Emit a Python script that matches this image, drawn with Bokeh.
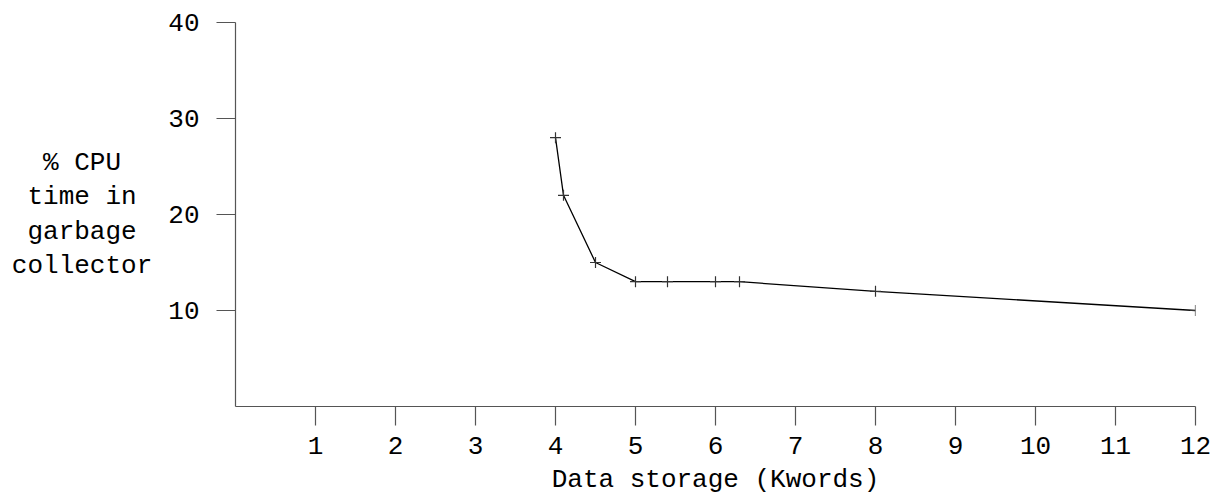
from bokeh.plotting import figure
from bokeh.models import FixedTicker, Range1d
from bokeh.embed import file_html
from bokeh.resources import INLINE

storage_kwords = [4, 4.1, 4.5, 5, 5.4, 6, 6.3, 8, 12]
cpu_pct_gc = [28, 22, 15, 13, 13, 13, 13, 12, 10]
x_ticks = [1, 2, 3, 4, 5, 6, 7, 8, 9, 10, 11, 12]
y_ticks = [10, 20, 30, 40]
x_title = "Data storage (Kwords)"
y_title_lines = ["% CPU", "time in", "garbage", "collector"]

FONT = "Liberation Mono"
FS = "26px"

# centre each line in the monospace block with non-breaking spaces
_w = max(len(s) for s in y_title_lines)
NB = "\u00a0"
y_title = "\n".join(NB * ((_w - len(s)) // 2) + s + NB * (_w - len(s) - (_w - len(s)) // 2)
                    for s in y_title_lines)

p = figure(width=1221, height=498, output_backend="svg", toolbar_location=None,
           x_range=Range1d(0, 12), y_range=Range1d(0, 40),
           min_border_left=235, min_border_right=26, min_border_top=22, min_border_bottom=92)
p.outline_line_color = None
p.xgrid.visible = False
p.ygrid.visible = False

for ax, ticks in ((p.xaxis[0], x_ticks), (p.yaxis[0], y_ticks)):
    ax.ticker = FixedTicker(ticks=ticks)
    ax.minor_tick_line_color = None
    ax.major_tick_in = 0
    ax.major_tick_out = 19
    ax.axis_line_color = "#555555"
    ax.major_tick_line_color = "#555555"
    ax.axis_line_width = 1.2
    ax.major_tick_line_width = 1.2
    ax.major_label_text_font = FONT
    ax.major_label_text_font_size = FS
    ax.major_label_text_color = "black"
    ax.axis_label_text_font = FONT
    ax.axis_label_text_font_size = FS
    ax.axis_label_text_font_style = "normal"
    ax.axis_label_text_color = "black"

p.xaxis.major_label_standoff = 11
p.yaxis.major_label_standoff = 17

p.xaxis.axis_label = x_title
p.xaxis.axis_label_standoff = 8

p.yaxis.axis_label = y_title
p.yaxis.axis_label_standoff = 13
p.yaxis.axis_label_text_line_height = 1.15
p.yaxis.axis_label_text_align = "center"
try:
    p.yaxis.axis_label_orientation = "horizontal"
except Exception:
    pass

p.line(storage_kwords, cpu_pct_gc, line_color="black", line_width=1.3)
p.scatter(storage_kwords, cpu_pct_gc, marker="cross", size=11, line_color="#333333", line_width=1.2)

open("out.html", "w").write(file_html(p, INLINE))
